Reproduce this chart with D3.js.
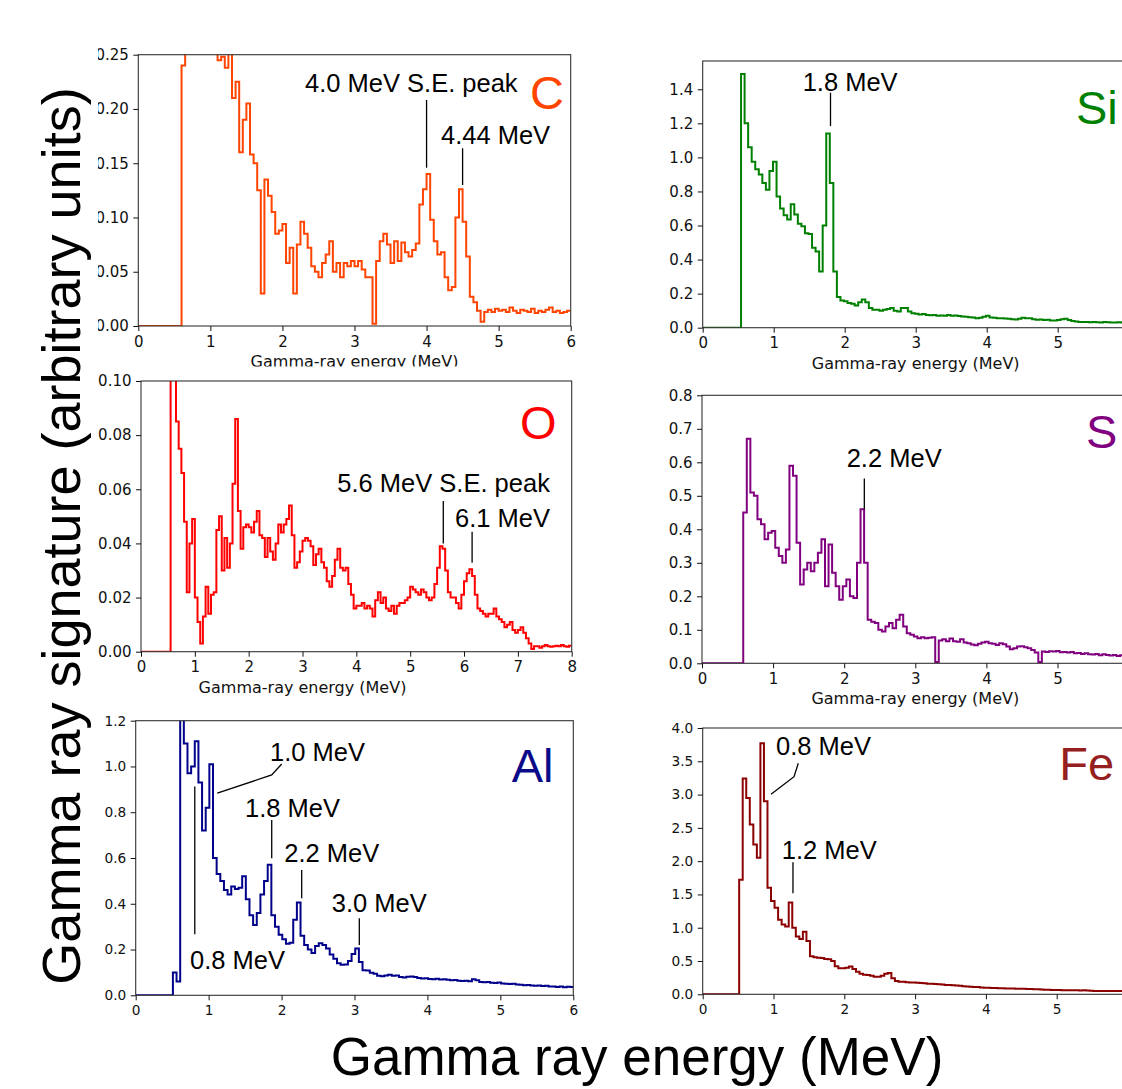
<!DOCTYPE html>
<html>
<head>
<meta charset="utf-8">
<script src="https://cdn.jsdelivr.net/npm/d3@7"></script>
<style>
  html, body { margin: 0; padding: 0; background: #fff; }
  svg { display: block; }
</style>
</head>
<body>
<svg id="fig" width="1122" height="1089"></svg>
<script>
// ---------------------------------------------------------------
// Simulated gamma-ray spectra, one histogram per element.
// Each spectrum: energy of the first bin edge (MeV), fixed bin width,
// and the per-bin signal (arbitrary units). Below the first edge the
// detector threshold gives zero counts.
// ---------------------------------------------------------------
const binWidth = 0.05;

const carbonStart = 0.60;
const carbonValues = [
  0.24, 0.42, 0.40, 0.38, 0.36, 0.34, 0.32, 0.30, 0.28, 0.26,
  0.245, 0.248, 0.238, 0.252, 0.21, 0.225, 0.16, 0.19, 0.205, 0.158,
  0.15, 0.125, 0.03, 0.135, 0.12, 0.105, 0.085, 0.088, 0.094, 0.058,
  0.072, 0.03, 0.075, 0.096, 0.085, 0.072, 0.055, 0.05, 0.045, 0.058,
  0.066, 0.078, 0.05, 0.058, 0.045, 0.058, 0.055, 0.06, 0.055, 0.06,
  0.052, 0.045, 0.045, 0.002, 0.06, 0.078, 0.085, 0.075, 0.058, 0.078,
  0.06, 0.077, 0.068, 0.064, 0.07, 0.076, 0.112, 0.126, 0.14, 0.098,
  0.078, 0.066, 0.068, 0.045, 0.033, 0.036, 0.1, 0.126, 0.096, 0.064,
  0.027, 0.022, 0.014, 0.004, 0.013,
  0.015, 0.013, 0.016, 0.014, 0.015, 0.013, 0.017, 0.014, 0.012, 0.015,
  0.014, 0.013, 0.016, 0.012, 0.014, 0.013, 0.015, 0.017, 0.013, 0.014,
  0.012, 0.013, 0.014
];

const siliconStart = 0.54;
const siliconValues = [
  1.49, 1.20, 1.06, 0.975, 0.93, 0.9, 0.85, 0.81, 0.92, 0.975,
  0.77, 0.7, 0.66, 0.635, 0.725, 0.665, 0.61, 0.595, 0.555, 0.55,
  0.47, 0.448, 0.33, 0.6, 1.14, 0.85, 0.33, 0.18, 0.16, 0.155,
  0.145, 0.14, 0.13, 0.15, 0.165, 0.15, 0.115, 0.105, 0.105, 0.1,
  0.105, 0.11, 0.115, 0.1, 0.095, 0.115, 0.115, 0.095, 0.085, 0.082,
  0.078, 0.08, 0.075, 0.073, 0.075, 0.07, 0.072, 0.07, 0.075, 0.07,
  0.072, 0.068, 0.066, 0.064, 0.062, 0.06, 0.055, 0.058, 0.065, 0.07,
  0.06, 0.058, 0.055, 0.056, 0.054, 0.052, 0.05, 0.048, 0.052, 0.058,
  0.055, 0.056, 0.05, 0.046, 0.048, 0.045, 0.046, 0.043, 0.042, 0.045,
  0.05, 0.053, 0.045, 0.04, 0.036, 0.033, 0.034, 0.033, 0.032, 0.034,
  0.032, 0.031, 0.033, 0.032, 0.03, 0.031, 0.032, 0.03, 0.031, 0.032
];

const oxygenStart = 0.55;
const oxygenValues = [
  0.2, 0.15, 0.085, 0.075, 0.066, 0.048, 0.022, 0.04, 0.049, 0.02,
  0.011, 0.003, 0.013, 0.024, 0.014, 0.021, 0.022, 0.045, 0.05, 0.03,
  0.042, 0.031, 0.04, 0.062, 0.086, 0.052, 0.038, 0.046, 0.047, 0.046,
  0.044, 0.048, 0.052, 0.043, 0.042, 0.035, 0.042, 0.037, 0.034, 0.04,
  0.047, 0.044, 0.047, 0.049, 0.054, 0.043, 0.031, 0.033, 0.037, 0.041,
  0.042, 0.041, 0.039, 0.032, 0.036, 0.038, 0.033, 0.031, 0.026, 0.024,
  0.028, 0.034, 0.038, 0.031, 0.03, 0.031, 0.025, 0.021, 0.016,
  0.017, 0.017, 0.018, 0.016, 0.017, 0.016, 0.013, 0.019, 0.022, 0.018,
  0.02, 0.016, 0.015, 0.017, 0.014, 0.017, 0.018, 0.018, 0.019, 0.02,
  0.024, 0.023, 0.022, 0.021, 0.023, 0.022, 0.02, 0.019, 0.02, 0.025,
  0.031, 0.039, 0.038, 0.03, 0.022, 0.02, 0.02, 0.018, 0.016, 0.021,
  0.026, 0.029, 0.0305, 0.028, 0.021, 0.016, 0.015, 0.014, 0.013, 0.014,
  0.014, 0.016, 0.013, 0.012, 0.011, 0.009, 0.01, 0.011, 0.008, 0.007,
  0.008, 0.009, 0.007, 0.005, 0.003, 0.001, 0.002,
  0.002, 0.0015, 0.002, 0.0025, 0.002, 0.0018, 0.002, 0.0022, 0.002, 0.0025,
  0.002, 0.0018, 0.0022
];

const sulfurStart = 0.58;
const sulfurValues = [
  0.45, 0.67, 0.51, 0.5, 0.43, 0.415, 0.37, 0.39, 0.395, 0.345,
  0.32, 0.3, 0.34, 0.59, 0.56, 0.36, 0.235, 0.28, 0.3, 0.275,
  0.3, 0.33, 0.37, 0.23, 0.355, 0.27, 0.23, 0.19, 0.23, 0.25,
  0.2, 0.195, 0.3, 0.46, 0.3, 0.13, 0.124, 0.12, 0.1, 0.095,
  0.11, 0.12, 0.105, 0.13, 0.145, 0.11, 0.09, 0.085, 0.08, 0.075,
  0.078, 0.075, 0.076, 0.078, 0.004, 0.068, 0.072, 0.066, 0.074, 0.066,
  0.064, 0.072, 0.062, 0.06, 0.056, 0.054, 0.058, 0.062, 0.064, 0.06,
  0.058, 0.055, 0.06, 0.057, 0.05, 0.042, 0.045, 0.05, 0.051, 0.048,
  0.045, 0.04, 0.032, 0.004, 0.035, 0.034, 0.036, 0.035, 0.037, 0.033,
  0.034, 0.032, 0.034, 0.03, 0.031, 0.028, 0.03, 0.027, 0.026, 0.028,
  0.024, 0.027, 0.025, 0.023, 0.025, 0.022, 0.024, 0.021, 0.022
];

const aluminumStart = 0.51;
const aluminumValues = [
  0.1, 0.06, 1.25, 1.1, 0.97, 1.0, 1.11, 0.93, 0.72, 0.82,
  1.01, 0.6, 0.53, 0.5, 0.46, 0.44, 0.475, 0.465, 0.47, 0.52,
  0.42, 0.35, 0.307, 0.36, 0.44, 0.5, 0.57, 0.35, 0.3, 0.265,
  0.245, 0.225, 0.23, 0.33, 0.405, 0.26, 0.22, 0.2, 0.185, 0.215,
  0.228, 0.22, 0.205, 0.178, 0.16, 0.14, 0.133, 0.135, 0.15, 0.18,
  0.205, 0.145, 0.11, 0.108,
  0.098, 0.094, 0.085, 0.083, 0.086, 0.09, 0.085, 0.087, 0.08, 0.078,
  0.081, 0.082, 0.08, 0.076, 0.073, 0.074, 0.071, 0.07, 0.072, 0.069,
  0.07, 0.068, 0.066, 0.067, 0.064, 0.062, 0.064, 0.061, 0.07, 0.066,
  0.058, 0.057, 0.058, 0.055, 0.054, 0.056, 0.052, 0.05, 0.049, 0.05,
  0.047, 0.046, 0.044, 0.045, 0.043, 0.042, 0.043, 0.041, 0.042, 0.039,
  0.038, 0.036, 0.038, 0.035, 0.037, 0.036
];

const ironStart = 0.515;
const ironValues = [
  1.72, 3.24, 2.95, 2.55, 2.25, 2.05, 3.77, 2.9, 1.6, 1.4,
  1.3, 1.12, 1.05, 1.02, 1.38, 1.0, 0.87, 0.83, 0.94, 0.8,
  0.57, 0.556, 0.55, 0.545, 0.53, 0.525, 0.5, 0.42, 0.39, 0.39,
  0.4, 0.416, 0.38, 0.34, 0.31, 0.295, 0.29, 0.28, 0.265, 0.265,
  0.28, 0.31, 0.32, 0.24, 0.2, 0.19, 0.188, 0.18, 0.178, 0.176,
  0.175, 0.17, 0.165,
  0.16, 0.157, 0.155, 0.151, 0.149, 0.141, 0.138, 0.135, 0.131, 0.127,
  0.12, 0.118, 0.114, 0.11, 0.108, 0.103, 0.1, 0.099, 0.096, 0.095,
  0.092, 0.09, 0.089, 0.088, 0.086, 0.085, 0.084, 0.082, 0.08, 0.08,
  0.076, 0.074, 0.071, 0.069, 0.067, 0.066, 0.064, 0.063, 0.062, 0.06,
  0.061, 0.059, 0.06, 0.058, 0.059, 0.057, 0.055, 0.051, 0.05, 0.05,
  0.049, 0.05, 0.048, 0.05, 0.049, 0.048, 0.049
];

// Axis tick values
const energyTicks6 = [0, 1, 2, 3, 4, 5, 6];
const energyTicks5 = [0, 1, 2, 3, 4, 5];
const energyTicks8 = [0, 1, 2, 3, 4, 5, 6, 7, 8];
const carbonTicks = [0, 0.05, 0.10, 0.15, 0.20, 0.25];
const siliconTicks = [0, 0.2, 0.4, 0.6, 0.8, 1.0, 1.2, 1.4];
const oxygenTicks = [0, 0.02, 0.04, 0.06, 0.08, 0.10];
const sulfurTicks = [0, 0.1, 0.2, 0.3, 0.4, 0.5, 0.6, 0.7, 0.8];
const aluminumTicks = [0, 0.2, 0.4, 0.6, 0.8, 1.0, 1.2];
const ironTicks = [0, 0.5, 1.0, 1.5, 2.0, 2.5, 3.0, 3.5, 4.0];

// Peak annotations: label text, label anchor (energy, signal) and leader polyline
const carbonNotes = [
  { text: "4.0 MeV S.E. peak", at: [2.313, 0.2156], leader: [[4.0, 0.2083], [4.0, 0.1459]] },
  { text: "4.44 MeV", at: [4.2, 0.1677], leader: [[4.5, 0.1637], [4.5, 0.1299]] }
];
const siliconNotes = [
  { text: "1.8 MeV", at: [1.408, 1.392], leader: [[1.80, 1.38], [1.80, 1.184]] }
];
const oxygenNotes = [
  { text: "5.6 MeV S.E. peak", at: [3.646, 0.0589], leader: [[5.615, 0.0557], [5.615, 0.040]] },
  { text: "6.1 MeV", at: [5.832, 0.0462], leader: [[6.15, 0.0443], [6.15, 0.0329]] }
];
const sulfurNotes = [
  { text: "2.2 MeV", at: [2.035, 0.587], leader: [[2.283, 0.552], [2.283, 0.46]] }
];
const aluminumNotes = [
  { text: "1.0 MeV", at: [1.842, 1.025], leader: [[1.119, 0.883], [1.865, 0.963], [2.002, 1.011]] },
  { text: "1.8 MeV", at: [1.499, 0.778], leader: [[1.865, 0.766], [1.865, 0.599]] },
  { text: "2.2 MeV", at: [2.038, 0.581], leader: [[2.276, 0.548], [2.276, 0.424]] },
  { text: "3.0 MeV", at: [2.688, 0.365], leader: [[3.066, 0.337], [3.066, 0.22]] },
  { text: "0.8 MeV", at: [0.745, 0.114], leader: [[0.81, 0.912], [0.81, 0.267]] }
];
const ironNotes = [
  { text: "0.8 MeV", at: [1.035, 3.594], leader: [[0.965, 3.004], [1.29, 3.268], [1.35, 3.47]] },
  { text: "1.2 MeV", at: [1.116, 2.032], leader: [[1.275, 1.983], [1.275, 1.517]] }
];

// Element names and where they sit in each panel (energy, signal)
const elementNames = ["C", "Si", "O", "S", "Al", "Fe"];
const elementNameAt = [[5.435, 0.2], [5.258, 1.196], [7.04, 0.0785], [5.40, 0.642], [5.156, 0.934], [5.037, 3.219]];

// ---------------------------------------------------------------
// Panel layout and styling
// ---------------------------------------------------------------
const panels = [
  { start: carbonStart, values: carbonValues, xMax: 6, yMax: 0.25, xTicks: energyTicks6, yTicks: carbonTicks, fmt: ".2f",
    notes: carbonNotes, color: "#ff4500", nameColor: "#ff4500",
    box: { left: 138.3, right: 570.7, top: 54.7, bottom: 326 }, tickFont: 15, xLabel: true,
    clip: { x: 98, y: 30, w: 520, h: 336.5 } },
  { start: siliconStart, values: siliconValues, xMax: 6, yMax: 1.566, xTicks: energyTicks5, yTicks: siliconTicks, fmt: ".1f",
    notes: siliconNotes, color: "#008000", nameColor: "#008000",
    box: { left: 702.7, right: 1128.7, top: 61, bottom: 327.7 }, tickFont: 15, xLabel: true },
  { start: oxygenStart, values: oxygenValues, xMax: 8, yMax: 0.10, xTicks: energyTicks8, yTicks: oxygenTicks, fmt: ".2f",
    notes: oxygenNotes, color: "#ff0000", nameColor: "#ff0000",
    box: { left: 141, right: 571.7, top: 381, bottom: 651.7 }, tickFont: 15, xLabel: true },
  { start: sulfurStart, values: sulfurValues, xMax: 6, yMax: 0.8, xTicks: energyTicks5, yTicks: sulfurTicks, fmt: ".1f",
    notes: sulfurNotes, color: "#800080", nameColor: "#800080",
    box: { left: 702, right: 1128.6, top: 395.3, bottom: 663.3 }, tickFont: 15, xLabel: true },
  { start: aluminumStart, values: aluminumValues, xMax: 6, yMax: 1.2, xTicks: energyTicks6, yTicks: aluminumTicks, fmt: ".1f",
    notes: aluminumNotes, color: "#00008b", nameColor: "#0b0b8a",
    box: { left: 135.7, right: 573.3, top: 720.7, bottom: 995.3 }, tickFont: 13.7, xLabel: false },
  { start: ironStart, values: ironValues, xMax: 6, yMax: 4.0, xTicks: energyTicks5, yTicks: ironTicks, fmt: ".1f",
    notes: ironNotes, color: "#8b0000", nameColor: "#962020",
    box: { left: 702.7, right: 1127.5, top: 728, bottom: 994.3 }, tickFont: 13.7, xLabel: false }
];

const tickFamily = '"DejaVu Sans", Verdana, sans-serif';
const textFamily = '"Liberation Sans", Arial, Helvetica, sans-serif';

const svg = d3.select("#fig");
const defs = svg.append("defs");

panels.forEach((p, i) => {
  const b = p.box;
  const x = d3.scaleLinear().domain([0, p.xMax]).range([b.left, b.right]);
  const y = d3.scaleLinear().domain([0, p.yMax]).range([b.bottom, b.top]);

  // optional outer crop of the whole panel
  let g = svg.append("g");
  if (p.clip) {
    defs.append("clipPath").attr("id", "panelcrop" + i)
      .append("rect").attr("x", p.clip.x).attr("y", p.clip.y)
      .attr("width", p.clip.w).attr("height", p.clip.h);
    g.attr("clip-path", "url(#panelcrop" + i + ")");
  }

  // plot-area clip for the spectrum
  defs.append("clipPath").attr("id", "plotarea" + i)
    .append("rect").attr("x", b.left).attr("y", b.top)
    .attr("width", b.right - b.left).attr("height", b.bottom - b.top);

  // histogram outline as a step line
  const pts = [[0, 0]];
  p.values.forEach((v, k) => pts.push([p.start + k * binWidth, v]));
  pts.push([p.start + p.values.length * binWidth, p.values[p.values.length - 1]]);

  const step = d3.line()
    .x(d => x(d[0]))
    .y(d => y(d[1]))
    .curve(d3.curveStepAfter);

  g.append("path")
    .attr("d", step(pts))
    .attr("clip-path", "url(#plotarea" + i + ")")
    .attr("fill", "none")
    .attr("stroke", p.color)
    .attr("stroke-width", 2)
    .attr("stroke-linejoin", "miter");

  // axes frame
  g.append("rect")
    .attr("x", b.left).attr("y", b.top)
    .attr("width", b.right - b.left).attr("height", b.bottom - b.top)
    .attr("fill", "none").attr("stroke", "#333").attr("stroke-width", 1.1);

  // x axis
  const gx = g.append("g")
    .attr("transform", `translate(0,${b.bottom})`)
    .call(d3.axisBottom(x).tickValues(p.xTicks).tickFormat(d3.format("d"))
      .tickSize(5).tickSizeOuter(0).tickPadding(5));
  gx.select(".domain").remove();
  gx.attr("font-family", tickFamily).attr("font-size", p.tickFont).attr("color", "#111");

  // y axis
  const gy = g.append("g")
    .attr("transform", `translate(${b.left},0)`)
    .call(d3.axisLeft(y).tickValues(p.yTicks).tickFormat(d3.format(p.fmt))
      .tickSize(5).tickSizeOuter(0).tickPadding(4.5));
  gy.select(".domain").remove();
  gy.attr("font-family", tickFamily).attr("font-size", p.tickFont).attr("color", "#111");

  if (p.xLabel) {
    g.append("text")
      .attr("x", (x(0) + x(6)) / 2)
      .attr("y", b.bottom + 41)
      .attr("text-anchor", "middle")
      .attr("font-family", tickFamily)
      .attr("font-size", 16)
      .attr("fill", "#111")
      .text("Gamma-ray energy (MeV)");
  }

  // peak annotations
  const leader = d3.line().x(d => x(d[0])).y(d => y(d[1]));
  p.notes.forEach(n => {
    g.append("path")
      .attr("d", leader(n.leader))
      .attr("fill", "none")
      .attr("stroke", "#000")
      .attr("stroke-width", 1.3);
    g.append("text")
      .attr("x", x(n.at[0]))
      .attr("y", y(n.at[1]))
      .attr("font-family", textFamily)
      .attr("font-size", 25.5)
      .attr("fill", "#000")
      .text(n.text);
  });

  // element symbol
  g.append("text")
    .attr("x", x(elementNameAt[i][0]))
    .attr("y", y(elementNameAt[i][1]))
    .attr("font-family", textFamily)
    .attr("font-size", 47)
    .attr("fill", p.nameColor)
    .text(elementNames[i]);
});

// shared axis titles
svg.append("text")
  .attr("transform", "translate(80,536) rotate(-90)")
  .attr("text-anchor", "middle")
  .attr("font-family", textFamily)
  .attr("font-size", 54)
  .attr("fill", "#000")
  .text("Gamma ray signature (arbitrary units)");

svg.append("text")
  .attr("x", 637)
  .attr("y", 1075)
  .attr("text-anchor", "middle")
  .attr("font-family", textFamily)
  .attr("font-size", 53)
  .attr("fill", "#000")
  .text("Gamma ray energy (MeV)");
</script>
</body>
</html>
